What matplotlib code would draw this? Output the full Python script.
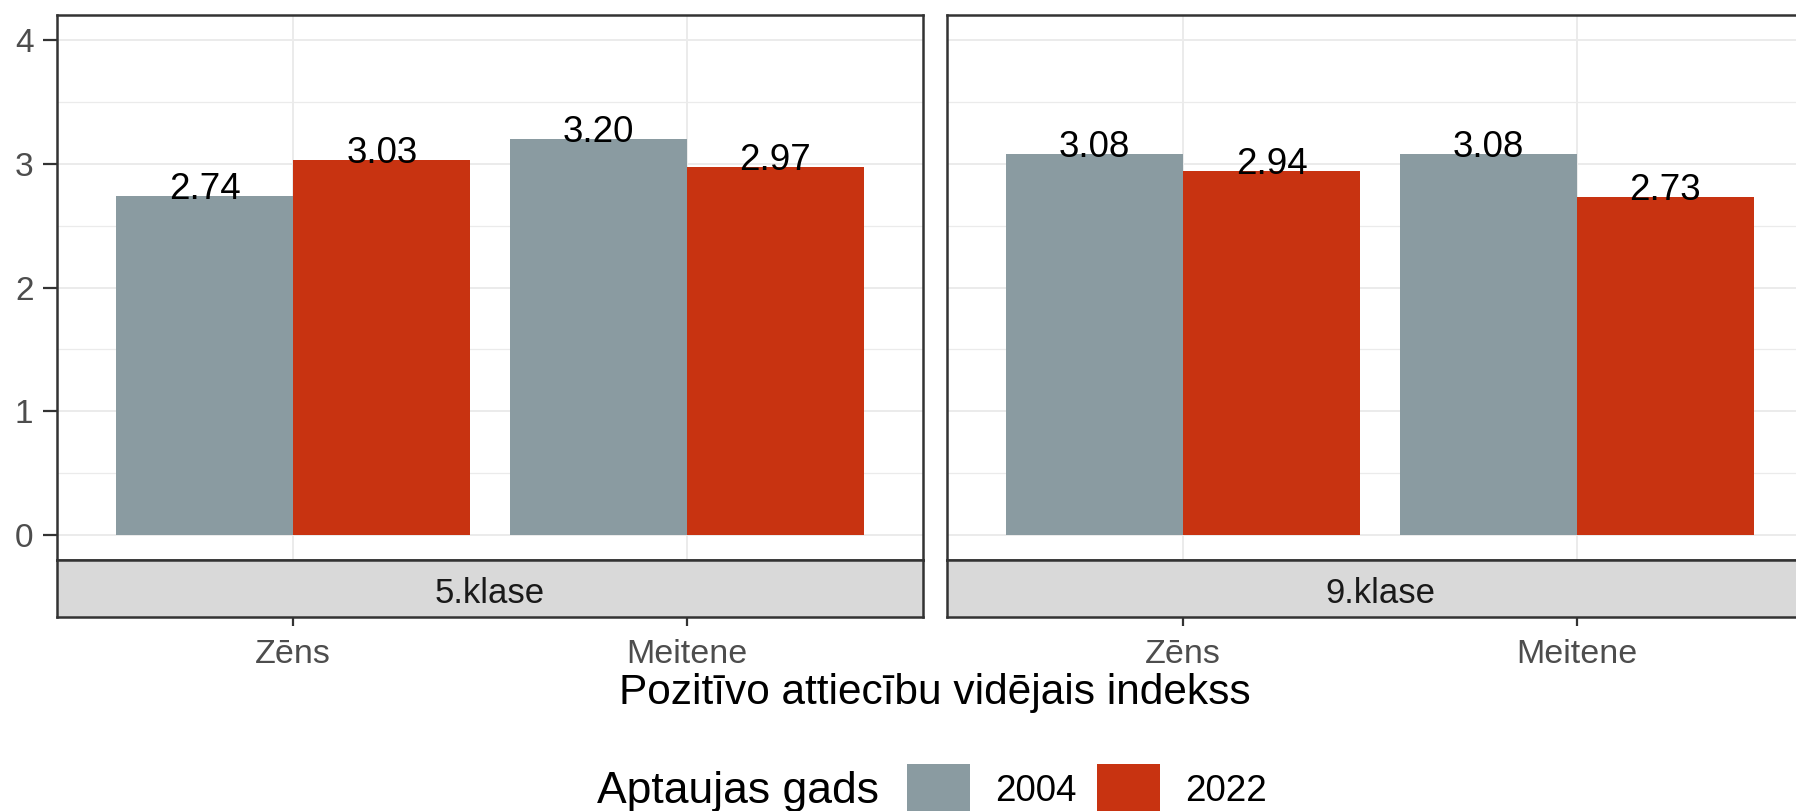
"""Pozitīvo attiecību vidējais indekss pa klasēm, dzimumiem un gadiem."""
import matplotlib
matplotlib.use("Agg")
import matplotlib.pyplot as plt
import numpy as np

plt.rcParams["font.family"] = ["Liberation Sans", "DejaVu Sans"]

# dati
grades = ["5.klase", "9.klase"]
genders = ["Zēns", "Meitene"]
years = ["2004", "2022"]
values_2004 = [[2.74, 3.20], [3.08, 3.08]]
values_2022 = [[3.03, 2.97], [2.94, 2.73]]
y_ticks = [0, 1, 2, 3, 4]

COLORS = {"2004": "#8A9BA1", "2022": "#C83311"}
BORDER = "#333333"
GRID = "#EBEBEB"

W, H = 1796, 811


def px_rect(x, y_top, w, h):
    """Pixel box (from top-left) -> figure fraction rect."""
    return [x / W, (H - y_top - h) / H, w / W, h / H]


def draw_panel(fig, x_left, grade_idx, show_y):
    ax = fig.add_axes(px_rect(x_left, 15, 866, 545))
    strip = fig.add_axes(px_rect(x_left, 560, 866, 57), sharex=ax)

    x = np.arange(1, len(genders) + 1)
    width = 0.45
    bars = []
    for k, (year, vals) in enumerate(zip(years, [values_2004, values_2022])):
        b = ax.bar(x + (k - 0.5) * width, vals[grade_idx], width,
                   color=COLORS[year], zorder=3, label=year)
        bars.append(b)
        for rect, v in zip(b, vals[grade_idx]):
            ax.annotate(f"{v:.2f}", (rect.get_x() + rect.get_width() / 2, v),
                        xytext=(0, -2), textcoords="offset points",
                        ha="center", va="baseline", fontsize=26.5, color="black",
                        zorder=4)

    ax.set_xlim(0.4, 2.6)
    ax.set_ylim(-0.2, 4.2)
    ax.set_yticks(y_ticks)
    ax.set_yticks([0.5, 1.5, 2.5, 3.5], minor=True)
    ax.set_xticks(x)
    ax.grid(True, which="major", color=GRID, lw=1.4, zorder=0)
    ax.grid(True, which="minor", axis="y", color=GRID, lw=0.9, zorder=0)
    ax.set_axisbelow(True)
    ax.tick_params(axis="x", length=0, labelbottom=False)
    ax.tick_params(axis="y", which="minor", length=0)
    if show_y:
        ax.tick_params(axis="y", which="major", length=10, width=1.6, color=BORDER,
                       pad=7, labelsize=24, labelcolor="#4D4D4D")
    else:
        ax.tick_params(axis="y", which="major", length=0, labelleft=False)
    for sp in ax.spines.values():
        sp.set_color(BORDER)
        sp.set_linewidth(1.8)

    strip.set_facecolor("#D9D9D9")
    strip.set_ylim(0, 1)
    strip.set_yticks([])
    strip.set_xticks(x)
    strip.set_xticklabels(genders)
    strip.tick_params(axis="x", length=6.5, width=1.6, color=BORDER, pad=9,
                      labelsize=24.5, labelcolor="#4D4D4D")
    for sp in strip.spines.values():
        sp.set_color(BORDER)
        sp.set_linewidth(1.8)
    strip.text(0.5, 0.245, grades[grade_idx], transform=strip.transAxes,
               ha="center", va="baseline", fontsize=25, color="#1A1A1A")
    return bars


fig = plt.figure(figsize=(W / 100, H / 100), dpi=100)

bars = draw_panel(fig, 57, 0, True)
draw_panel(fig, 947, 1, False)

fig.text(935 / W, (H - 704) / H, "Pozitīvo attiecību vidējais indekss",
         ha="center", va="baseline", fontsize=30.5, color="black")

fig.text(597 / W, (H - 803) / H, "Aptaujas gads",
         ha="left", va="baseline", fontsize=32, color="black")
fig.legend(handles=bars, labels=years, loc="upper left",
           bbox_to_anchor=(907 / W, (H - 764) / H), ncol=2, frameon=False,
           fontsize=26.5, handlelength=1.7, handleheight=1.7, handletextpad=0.7,
           columnspacing=0.55, borderpad=0, borderaxespad=0)

fig.savefig("out.png", dpi=100)
